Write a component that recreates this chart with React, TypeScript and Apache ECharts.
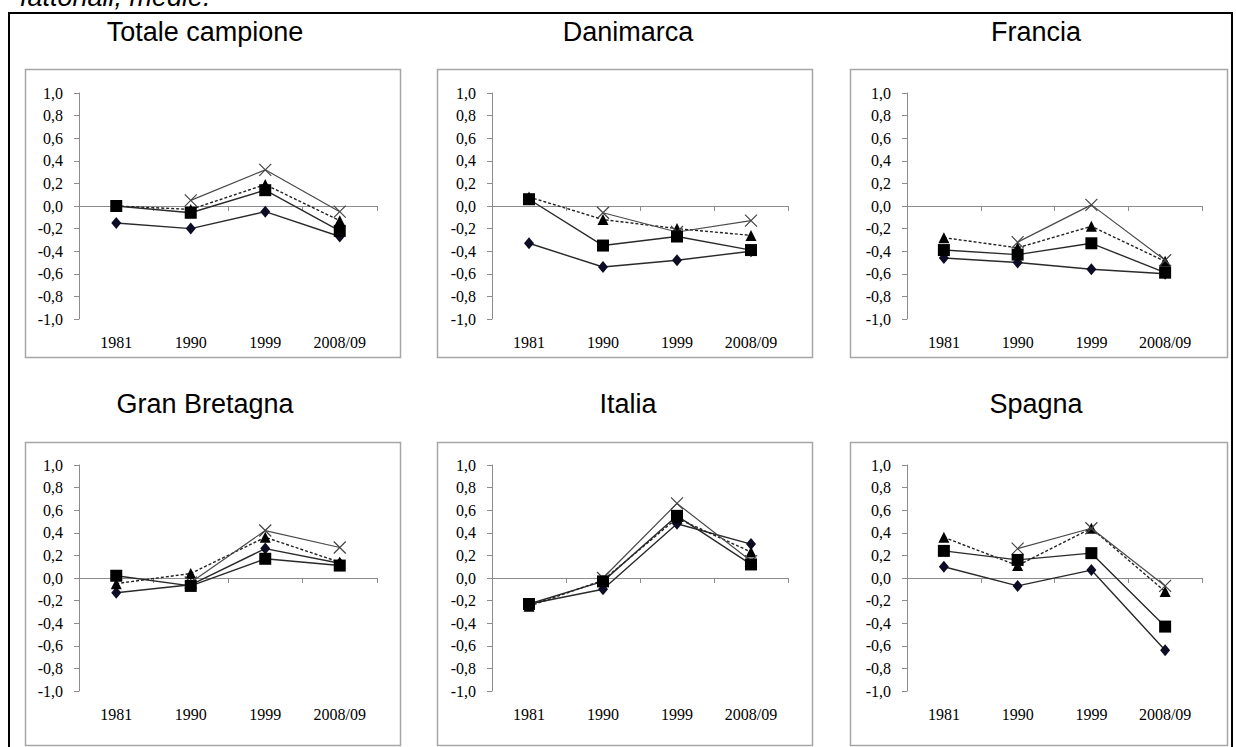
import React, { useEffect, useRef } from 'react';
import * as echarts from 'echarts';

const years = ['1981', '1990', '1999', '2008/09'];
const panelTitles = ['Totale campione', 'Danimarca', 'Francia', 'Gran Bretagna', 'Italia', 'Spagna'];
const yTicks = { min: -1, max: 1, step: 0.2 };

// one row per panel, values for 1981, 1990, 1999, 2008/09
const diamondSeries = [
  [-0.15, -0.2, -0.05, -0.27],
  [-0.33, -0.54, -0.48, -0.4],
  [-0.46, -0.5, -0.56, -0.6],
  [-0.13, -0.06, 0.26, 0.13],
  [-0.23, -0.1, 0.48, 0.3],
  [0.1, -0.07, 0.07, -0.64],
];
const squareSeries = [
  [0.0, -0.06, 0.14, -0.22],
  [0.06, -0.35, -0.27, -0.39],
  [-0.39, -0.43, -0.33, -0.59],
  [0.02, -0.07, 0.17, 0.11],
  [-0.23, -0.03, 0.55, 0.12],
  [0.24, 0.16, 0.22, -0.43],
];
const triangleSeries = [
  [0.0, -0.03, 0.19, -0.13],
  [0.08, -0.12, -0.2, -0.26],
  [-0.28, -0.37, -0.18, -0.49],
  [-0.05, 0.04, 0.36, 0.14],
  [-0.25, -0.02, 0.53, 0.23],
  [0.36, 0.11, 0.44, -0.12],
];
const crossSeries = [
  [null, 0.05, 0.32, -0.05],
  [null, -0.06, -0.23, -0.13],
  [null, -0.32, 0.01, -0.48],
  [null, -0.04, 0.42, 0.27],
  [null, 0.0, 0.66, 0.15],
  [null, 0.26, 0.44, -0.07],
];

const SANS = '"Liberation Sans", Arial, sans-serif';
const SERIF = '"Liberation Serif", "Times New Roman", serif';

const colLeft = [79, 492, 907];
const colWidth = [298, 296, 295];
const rowTop = [93, 465];
const plotH = 226;
const boxX = [[25, 400], [437, 812], [850, 1227]];
const boxY = [[69, 357], [442, 745]];
const titleX = [205, 628, 1036];
const titleY = [32, 404];

export default function App() {
  const ref = useRef<HTMLDivElement>(null);
  useEffect(() => {
    const chart = echarts.init(ref.current!, null, { renderer: 'svg' });
    const grid: any[] = [];
    const xAxis: any[] = [];
    const yAxis: any[] = [];
    const series: any[] = [];
    const graphic: any[] = [];

    graphic.push({
      type: 'text',
      x: 20,
      y: -3,
      style: { text: 'fattoriali, medie.', font: 'italic 27px ' + SANS, fill: '#000', verticalAlign: 'middle' },
    });
    graphic.push({
      type: 'rect',
      shape: { x: 9, y: 13, width: 1223, height: 780 },
      style: { fill: 'none', stroke: '#000', lineWidth: 2 },
    });

    panelTitles.forEach((name, i) => {
      const col = i % 3;
      const row = Math.floor(i / 3);
      graphic.push({
        type: 'rect',
        shape: {
          x: boxX[col][0] + 0.5,
          y: boxY[row][0] + 0.5,
          width: boxX[col][1] - boxX[col][0],
          height: boxY[row][1] - boxY[row][0],
        },
        style: { fill: 'none', stroke: '#a6a6a6', lineWidth: 1.5 },
        z: -1,
      });
      graphic.push({
        type: 'text',
        x: titleX[col],
        y: titleY[row],
        style: { text: name, font: '27px ' + SANS, fill: '#000', align: 'center', verticalAlign: 'middle' },
      });

      grid.push({ left: colLeft[col], top: rowTop[row], width: colWidth[col], height: plotH });
      xAxis.push({
        type: 'category',
        gridIndex: i,
        data: years,
        position: 'bottom',
        axisLine: { show: true, onZero: true, lineStyle: { color: '#8c8c8c', width: 1 } },
        axisTick: { show: true, length: 5, lineStyle: { color: '#8c8c8c' } },
        axisLabel: { show: false },
        splitLine: { show: false },
      });
      xAxis.push({
        type: 'category',
        gridIndex: i,
        data: years,
        position: 'bottom',
        axisLine: { show: false, onZero: false },
        axisTick: { show: false },
        splitLine: { show: false },
        axisLabel: { margin: 15, fontFamily: SERIF, fontSize: 16, color: '#000' },
      });
      yAxis.push({
        type: 'value',
        gridIndex: i,
        min: yTicks.min,
        max: yTicks.max,
        interval: yTicks.step,
        axisLine: { show: true, lineStyle: { color: '#8c8c8c', width: 1 } },
        axisTick: { show: true, length: 5, lineStyle: { color: '#8c8c8c' } },
        splitLine: { show: false },
        axisLabel: {
          margin: 16,
          fontFamily: SERIF,
          fontSize: 16,
          color: '#000',
          formatter: (v: number) => v.toFixed(1).replace('.', ','),
        },
      });

      const common = { type: 'line', xAxisIndex: 2 * i, yAxisIndex: i, silent: true, connectNulls: false };
      series.push({
        ...common,
        data: diamondSeries[i],
        symbol: 'diamond',
        symbolSize: [10, 12],
        lineStyle: { color: '#2a2a2a', width: 1.4 },
        itemStyle: { color: '#0c0c24' },
        z: 2,
      });
      series.push({
        ...common,
        data: triangleSeries[i],
        symbol: 'triangle',
        symbolSize: 11,
        lineStyle: { color: '#222', width: 1.4, type: [3, 2] },
        itemStyle: { color: '#000' },
        z: 3,
      });
      series.push({
        ...common,
        data: crossSeries[i],
        symbol: 'path://M0,0L10,10M10,0L0,10',
        symbolSize: 12,
        lineStyle: { color: '#4a4a4a', width: 1.2 },
        itemStyle: { color: 'none', borderColor: '#444', borderWidth: 1.2 },
        z: 4,
      });
      series.push({
        ...common,
        data: squareSeries[i],
        symbol: 'rect',
        symbolSize: 12,
        lineStyle: { color: '#2a2a2a', width: 1.4 },
        itemStyle: { color: '#000' },
        z: 5,
      });
    });

    chart.setOption({
      animation: false,
      backgroundColor: '#fff',
      grid,
      xAxis,
      yAxis,
      series,
      graphic,
    });
    return () => chart.dispose();
  }, []);
  return (
    <div
      ref={ref}
      style={{ position: 'absolute', left: 0, top: 0, width: 1236, height: 747 }}
    />
  );
}
